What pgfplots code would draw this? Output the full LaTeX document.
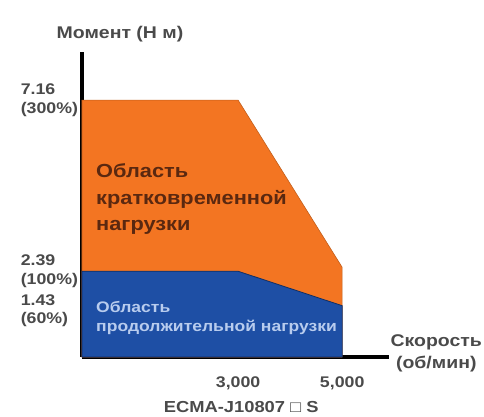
\documentclass[border=0pt]{standalone}
\usepackage{fontspec}
\setmainfont{Liberation Sans}[FakeStretch=1.15]
\usepackage{pgfplots}
\pgfplotsset{compat=1.18}

\definecolor{peak}{HTML}{F37522}
\definecolor{rated}{HTML}{1E4FA5}
\definecolor{ticktxt}{HTML}{4A4A4A}
\definecolor{peaktxt}{HTML}{5A2810}
\definecolor{ratedtxt}{HTML}{B8CCEE}

\begin{document}
\begin{tikzpicture}
\useasboundingbox (-82bp,-60bp) rectangle (402bp,357bp);
\begin{axis}[
    scale only axis,
    width=307bp, height=305bp,
    xmin=0, xmax=5900,
    ymin=0, ymax=8.5,
    axis lines=left,
    axis line style={-, line width=4bp, black},
    major tick length=0pt,
    xtick={3000,5000},
    xticklabels={{3,000},{5,000}},
    ytick={2.39,7.16},
    yticklabels={{2.39\\(100\%)},{7.16\\(300\%)}},
    extra y ticks={1.43},
    extra y tick labels={{1.43\\(60\%)}},
    extra y tick style={yticklabel style={yshift=-5bp}},
    /pgf/number format/assume math mode=true,
    xticklabel style={font=\bfseries\fontsize{15.5}{17}\selectfont, text=ticktxt, yshift=-16bp},
    yticklabel style={font=\bfseries\fontsize{15.5}{19}\selectfont, text=ticktxt,
        align=left, text width=63bp, inner xsep=0pt, xshift=2bp},
    clip=false,
]
% short-term (peak) zone
\addplot[fill=peak, draw=peak!80!black, line width=0.6bp] coordinates {
    (0,0) (0,7.16) (3000,7.16) (5000,2.50) (5000,0)
} -- cycle;
% continuous (rated) zone
\addplot[fill=rated, draw=rated!60!black, line width=0.8bp] coordinates {
    (0,0) (0,2.39) (3000,2.39) (5000,1.43) (5000,0)
} -- cycle;

\node[anchor=west, align=left, text=peaktxt, font=\bfseries\fontsize{19}{27}\selectfont, inner sep=0pt]
    at (axis cs:270,4.4) {Область\\кратковременной\\нагрузки};
\node[anchor=west, align=left, text=ratedtxt, font=\bfseries\fontsize{15.3}{19}\selectfont, inner sep=0pt]
    at (axis cs:270,1.08) {Область\\продолжительной нагрузки};

\node[text=ticktxt, font=\bfseries\fontsize{17}{19}\selectfont]
    at (axis cs:730,9.0) {Момент (Н м)};
\node[anchor=east, align=center, text=ticktxt, font=\bfseries\fontsize{17}{22}\selectfont, inner sep=0pt]
    at (axis cs:7690,0.1) {Скорость\\(об/мин)};
\node[text=ticktxt, font=\bfseries\fontsize{16}{18}\selectfont]
    at (axis cs:3060,-1.39) {ECMA-J10807 □ S};
\end{axis}
\end{tikzpicture}
\end{document}
